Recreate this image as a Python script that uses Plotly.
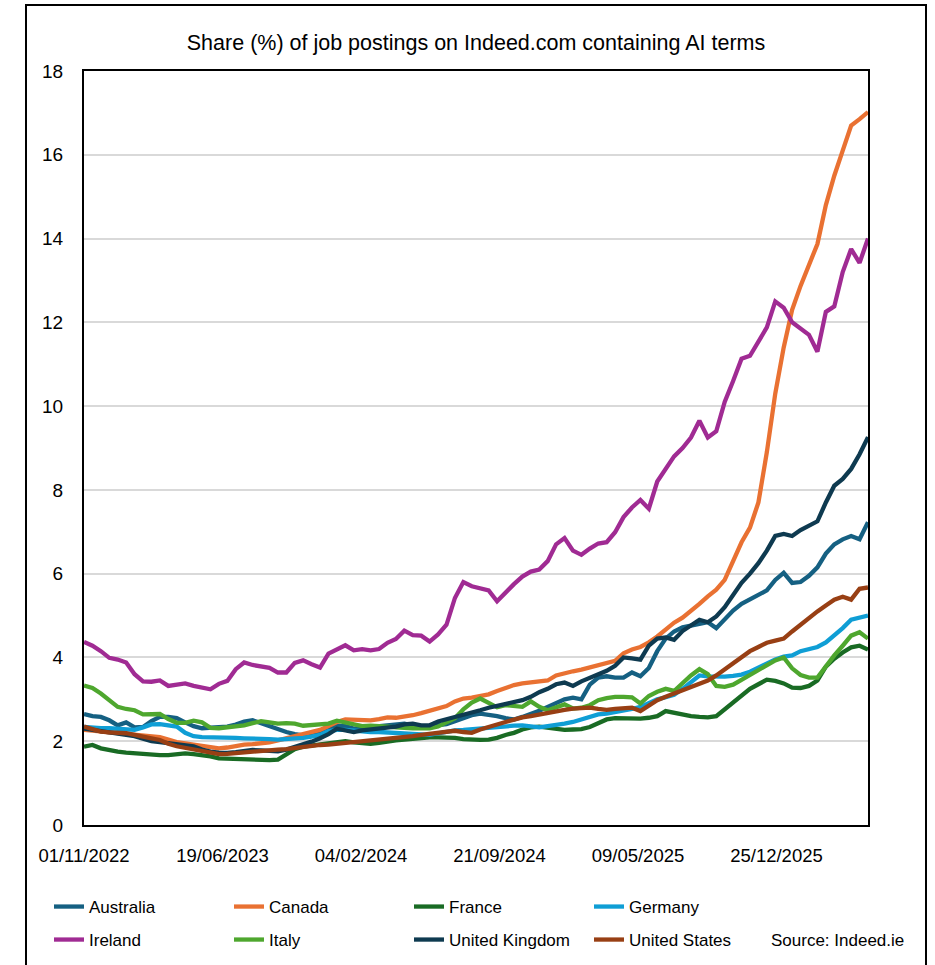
import pandas as pd
import plotly.graph_objects as go

# sample dates (every 14 days from 01/11/2022)
dates = pd.date_range("2022-11-01", periods=94, freq="14D")

australia = [2.65, 2.6, 2.58, 2.5, 2.38, 2.45, 2.33, 2.34, 2.48, 2.58,
             2.58, 2.55, 2.45, 2.36, 2.31, 2.32, 2.34, 2.35, 2.4, 2.47,
             2.5, 2.43, 2.35, 2.28, 2.22, 2.17, 2.14, 2.15, 2.2, 2.29,
             2.37, 2.36, 2.3, 2.32, 2.34, 2.36, 2.38, 2.4, 2.42, 2.38,
             2.34, 2.36, 2.38, 2.41, 2.48, 2.56, 2.62, 2.66, 2.64, 2.6,
             2.55, 2.52, 2.58, 2.65, 2.73, 2.82, 2.9, 3.0, 3.04, 3.0,
             3.35, 3.52, 3.55, 3.52, 3.52, 3.64, 3.55, 3.75, 4.15, 4.45,
             4.62, 4.72, 4.76, 4.8, 4.84, 4.7, 4.92, 5.12, 5.28, 5.38,
             5.48, 5.6, 5.85, 6.02, 5.78, 5.8, 5.95, 6.15, 6.48, 6.7,
             6.82, 6.9, 6.82, 7.23]

canada = [2.27, 2.25, 2.22, 2.2, 2.18, 2.16, 2.15, 2.13, 2.12, 2.1,
          2.04, 1.98, 1.95, 1.92, 1.88, 1.86, 1.83, 1.85, 1.89, 1.92,
          1.93, 1.95, 1.97, 2.02, 2.07, 2.12, 2.17, 2.22, 2.27, 2.36,
          2.46, 2.52, 2.52, 2.5, 2.5, 2.53, 2.57, 2.56, 2.58, 2.62,
          2.67, 2.72, 2.78, 2.84, 2.95, 3.02, 3.04, 3.07, 3.12, 3.2,
          3.27, 3.34, 3.38, 3.4, 3.42, 3.45, 3.57, 3.63, 3.67, 3.71,
          3.76, 3.82, 3.87, 3.92, 4.1, 4.19, 4.25, 4.36, 4.5, 4.66,
          4.83, 4.95, 5.1, 5.28, 5.46, 5.62, 5.85, 6.3, 6.75, 7.1,
          7.7, 8.9, 10.3, 11.4, 12.3, 12.87, 13.36, 13.87, 14.8, 15.5,
          16.1, 16.7, 16.85, 17.02]

france = [1.87, 1.91, 1.83, 1.78, 1.75, 1.73, 1.71, 1.69, 1.68, 1.67,
          1.67, 1.69, 1.71, 1.69, 1.67, 1.64, 1.59, 1.58, 1.59, 1.58,
          1.56, 1.55, 1.55, 1.56, 1.7, 1.81, 1.87, 1.9, 1.93, 1.96,
          1.98, 2.0, 1.97, 1.95, 1.94, 1.96, 2.0, 2.02, 2.04, 2.06,
          2.08, 2.09, 2.09, 2.09, 2.08, 2.05, 2.03, 2.03, 2.04, 2.08,
          2.15, 2.2, 2.28, 2.33, 2.35, 2.32, 2.3, 2.27, 2.28, 2.29,
          2.34, 2.42, 2.52, 2.55, 2.54, 2.54, 2.54, 2.56, 2.6, 2.72,
          2.68, 2.63, 2.6, 2.58, 2.57, 2.6, 2.76, 2.9, 3.08, 3.25,
          3.36, 3.47, 3.44, 3.38, 3.28, 3.27, 3.32, 3.45, 3.78, 3.97,
          4.12, 4.24, 4.28, 4.19]

germany = [2.34, 2.32, 2.31, 2.31, 2.3, 2.28, 2.27, 2.33, 2.4, 2.41,
           2.38, 2.35, 2.2, 2.12, 2.1, 2.1, 2.1, 2.09, 2.08, 2.07,
           2.07, 2.07, 2.05, 2.04, 2.05, 2.06, 2.08, 2.11, 2.15, 2.24,
           2.27, 2.27, 2.25, 2.23, 2.22, 2.22, 2.21, 2.2, 2.19, 2.18,
           2.16, 2.15, 2.19, 2.23, 2.26, 2.27, 2.29, 2.31, 2.32, 2.34,
           2.35, 2.37, 2.38, 2.35, 2.33, 2.36, 2.38, 2.42, 2.46, 2.52,
           2.56, 2.64, 2.66, 2.69, 2.72, 2.77, 2.82, 2.92, 3.0, 3.05,
           3.11, 3.25, 3.42, 3.57, 3.55, 3.54, 3.54, 3.56, 3.59, 3.66,
           3.76, 3.85, 3.95, 4.02, 4.05, 4.15, 4.2, 4.25, 4.36, 4.52,
           4.7, 4.9, 4.95, 5.0]

ireland = [4.37, 4.28, 4.15, 3.99, 3.95, 3.88, 3.6, 3.43, 3.42, 3.45,
           3.32, 3.36, 3.38, 3.32, 3.27, 3.24, 3.37, 3.44, 3.72, 3.88,
           3.82, 3.79, 3.75, 3.64, 3.64, 3.87, 3.93, 3.84, 3.76, 4.09,
           4.2, 4.29, 4.17, 4.2, 4.17, 4.2, 4.35, 4.44, 4.64, 4.53,
           4.52, 4.38, 4.55, 4.78, 5.42, 5.8, 5.7, 5.64, 5.6, 5.34,
           5.55, 5.75, 5.93, 6.05, 6.1, 6.3, 6.7, 6.85, 6.55, 6.45,
           6.6, 6.72, 6.75, 6.99, 7.35, 7.58, 7.76, 7.55, 8.2, 8.5,
           8.8, 9.0, 9.25, 9.65, 9.25, 9.4, 10.1, 10.6, 11.13, 11.2,
           11.52, 11.88, 12.5, 12.35, 12.0, 11.86, 11.7, 11.3, 12.25, 12.38,
           13.2, 13.75, 13.42, 14.0]

italy = [3.33, 3.27, 3.14, 2.98, 2.82, 2.77, 2.74, 2.64, 2.64, 2.65,
         2.53, 2.44, 2.44, 2.49, 2.45, 2.32, 2.31, 2.33, 2.34, 2.38,
         2.43, 2.48, 2.45, 2.42, 2.43, 2.42, 2.37, 2.38, 2.39, 2.42,
         2.49, 2.44, 2.39, 2.36, 2.37, 2.37, 2.35, 2.33, 2.31, 2.31,
         2.31, 2.31, 2.35, 2.45, 2.55, 2.76, 2.92, 3.02, 2.92, 2.81,
         2.86, 2.84, 2.82, 2.95, 2.82, 2.74, 2.82, 2.88, 2.78, 2.8,
         2.86, 2.98, 3.03, 3.06, 3.06, 3.05, 2.9, 3.08, 3.18, 3.25,
         3.2, 3.4, 3.57, 3.72, 3.6, 3.32, 3.3, 3.35, 3.47, 3.58,
         3.68, 3.8, 3.93, 4.0, 3.74, 3.58, 3.52, 3.52, 3.8, 4.05,
         4.28, 4.52, 4.6, 4.45]

united_kingdom = [2.3, 2.27, 2.24, 2.22, 2.2, 2.17, 2.12, 2.06, 2.0, 1.98,
                  1.96, 1.94, 1.92, 1.88, 1.8, 1.75, 1.73, 1.72, 1.74, 1.77,
                  1.79, 1.78, 1.76, 1.76, 1.8, 1.86, 1.92, 1.99, 2.07, 2.17,
                  2.3, 2.26, 2.22, 2.26, 2.28, 2.32, 2.34, 2.35, 2.4, 2.42,
                  2.38, 2.38, 2.47, 2.52, 2.58, 2.64, 2.68, 2.74, 2.8, 2.85,
                  2.88, 2.93, 2.98, 3.06, 3.17, 3.25, 3.36, 3.4, 3.32, 3.43,
                  3.52, 3.6, 3.68, 3.8, 4.0, 3.98, 3.95, 4.28, 4.45, 4.48,
                  4.42, 4.63, 4.77, 4.9, 4.84, 4.98, 5.2, 5.5, 5.78, 6.0,
                  6.25, 6.55, 6.9, 6.95, 6.9, 7.04, 7.15, 7.25, 7.7, 8.1,
                  8.26, 8.5, 8.85, 9.26]

united_states = [2.35, 2.28, 2.23, 2.21, 2.2, 2.19, 2.15, 2.12, 2.07, 2.03,
                 1.94, 1.88, 1.84, 1.8, 1.77, 1.74, 1.69, 1.7, 1.72, 1.73,
                 1.75, 1.77, 1.78, 1.8, 1.81, 1.84, 1.86, 1.89, 1.91, 1.92,
                 1.94, 1.96, 1.98, 1.99, 2.02, 2.04, 2.06, 2.07, 2.08, 2.12,
                 2.15, 2.18, 2.2, 2.23, 2.25, 2.22, 2.2, 2.28, 2.35, 2.4,
                 2.46, 2.52, 2.57, 2.6, 2.64, 2.69, 2.72, 2.75, 2.78, 2.79,
                 2.8, 2.77, 2.75, 2.77, 2.78, 2.8, 2.72, 2.85, 2.98, 3.06,
                 3.14, 3.22, 3.29, 3.36, 3.45, 3.57, 3.72, 3.86, 4.02, 4.15,
                 4.25, 4.35, 4.4, 4.45, 4.62, 4.78, 4.96, 5.1, 5.24, 5.38,
                 5.45, 5.38, 5.64, 5.67]

series_names = ["Australia", "Canada", "France", "Germany",
                "Ireland", "Italy", "United Kingdom", "United States"]
series_values = [australia, canada, france, germany,
                 ireland, italy, united_kingdom, united_states]
series_colors = ["#156082", "#E97132", "#196B24", "#0F9ED5",
                 "#A02B93", "#4EA72E", "#0E3A50", "#983F14"]

tick_dates = ["2022-11-01", "2023-06-19", "2024-02-04",
              "2024-09-21", "2025-05-09", "2025-12-25"]
tick_labels = ["01/11/2022", "19/06/2023", "04/02/2024",
               "21/09/2024", "09/05/2025", "25/12/2025"]
y_ticks = [0, 2, 4, 6, 8, 10, 12, 14, 16, 18]

FONT = "'Liberation Sans', Arial, sans-serif"

fig = go.Figure()
for k, (name, vals, col) in enumerate(zip(series_names, series_values, series_colors)):
    fig.add_trace(go.Scatter(
        x=dates, y=vals, name=name, mode="lines",
        line=dict(color=col, width=4.3),
        legend="legend" if k < 4 else "legend2",
    ))

W, H = 935, 965
L, R, T, B = 84, 67, 71, 140
pw, ph = W - L - R, H - T - B

def px_x(p):
    return (p - L) / pw

def px_y(p):
    return (H - B - p) / ph

legend_common = dict(
    orientation="h", xanchor="left", yanchor="middle",
    font=dict(family=FONT, size=17, color="#000000"),
    entrywidth=135, entrywidthmode="pixels",
    bgcolor="rgba(0,0,0,0)", itemwidth=30,
)

fig.update_layout(
    width=W, height=H,
    margin=dict(l=L, r=R, t=T, b=B, autoexpand=False),
    paper_bgcolor="white", plot_bgcolor="white",
    font=dict(family=FONT, color="#000000"),
    title=dict(text="Share (%) of job postings on Indeed.com containing AI terms",
               x=0.5, xref="paper", xanchor="center",
               y=1 - 42 / H, yanchor="middle",
               font=dict(family=FONT, size=21.5, color="#000000")),
    showlegend=True,
    legend=dict(x=px_x(49), y=px_y(907), **legend_common),
    legend2=dict(x=px_x(49), y=px_y(940), **legend_common),
    xaxis=dict(
        type="date",
        range=[dates[0], dates[-1]],
        tickmode="array", tickvals=tick_dates, ticktext=tick_labels,
        tickfont=dict(family=FONT, size=18.5, color="#000000"),
        ticks="", ticklabelstandoff=13,
        showgrid=False, zeroline=False,
        showline=True, linecolor="black", linewidth=2, mirror=True,
    ),
    yaxis=dict(
        range=[0, 18], tickmode="array", tickvals=y_ticks,
        tickfont=dict(family=FONT, size=19, color="#000000"),
        ticks="", ticklabelstandoff=15,
        showgrid=True, gridcolor="#D9D9D9", gridwidth=1.5,
        zeroline=False,
        showline=True, linecolor="black", linewidth=2, mirror=True,
    ),
    shapes=[dict(
        type="rect", xref="paper", yref="paper",
        x0=px_x(26), x1=px_x(926), y0=px_y(990), y1=px_y(5),
        line=dict(color="black", width=2), fillcolor="rgba(0,0,0,0)",
        layer="below",
    )],
    annotations=[dict(
        text="Source: Indeed.ie", xref="paper", yref="paper",
        x=px_x(906), y=px_y(941), xanchor="right", yanchor="middle",
        showarrow=False, font=dict(family=FONT, size=17, color="#000000"),
    )],
)

fig.write_html("out.html",
               config={"displayModeBar": False},
               post_script="document.body.style.margin='0px';")
